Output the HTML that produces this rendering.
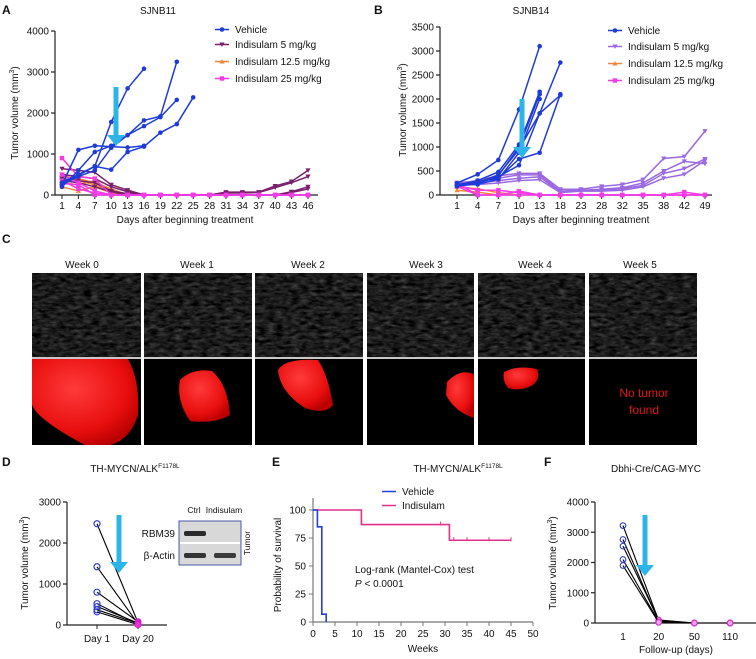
<!DOCTYPE html>
<html><head><meta charset="utf-8">
<style>
html,body{margin:0;padding:0;background:#fff;}
svg{display:block;font-family:"Liberation Sans",Arial,sans-serif;}
</style></head>
<body>
<svg id="fig" width="756" height="659" viewBox="0 0 756 659" xmlns="http://www.w3.org/2000/svg">
<defs>
<filter id="us" x="0" y="0" width="100%" height="100%" color-interpolation-filters="sRGB">
<feTurbulence type="fractalNoise" baseFrequency="0.12 0.3" numOctaves="3" seed="4"/>
<feColorMatrix type="matrix" values="0.55 0.55 0 0 -0.33  0.55 0.55 0 0 -0.33  0.55 0.55 0 0 -0.33  0 0 0 0 1"/>
</filter>
<radialGradient id="redg" cx="40%" cy="35%" r="70%"><stop offset="0" stop-color="#ff3a3a"/><stop offset="0.7" stop-color="#e80e0e"/><stop offset="1" stop-color="#b80000"/></radialGradient>
</defs>
<g id="root"></g>
</svg>
<script>
// ---------- Panel A data ----------
const aDays=[1,4,7,10,13,16,19,22,25,28,31,34,37,40,43,46];
const aVehicle=[[250,480,700,1780,2600,3080],[250,1100,1200,1180,1160,1200],[200,600,1050,1200,1460,1680,1900,2320],[300,500,700,620,1050,1180,1520,1730,2380],[250,450,600,1150,1460,1820,1920,3250]];
const aDose5=[[640,600,550,250,120,0,0,0,0,0,70,70,70,220,330,600],[500,450,400,200,80,0,0,0,0,0,50,50,60,180,300,450],[400,350,300,100,30,0,0,0,0,0,0,0,0,0,80,200],[350,300,200,80,0,0,0,0,0,0,0,0,0,0,60,150]];
const aDose12=[[450,400,300,150,0],[300,250,350,100,0],[200,100,200,50,0],[500,350,250,80,0]];
const aDose25=[[900,450,400,0,0,0,0,0,0,0,0,0,0,0,0,0],[500,300,100,0,0,0,0,0,0,0,0,0,0,0,0,0],[350,150,50,0,0,0,0,0,0,0,0,0,0,0,0,0],[280,250,0,0,0,0,0,0,0,0,0,0,0,0,0,0]];
const aYTicks=[0,1000,2000,3000,4000];
// ---------- Panel B data ----------
const bDays=[1,4,7,10,13,18,23,28,32,35,38,42,49];
const bVehicle=[[250,430,730,1780,3100],[200,300,480,1050,2150],[200,250,400,1000,2100],[220,280,350,750,880,2100],[180,250,380,620,1700,2760],[200,220,330,880,2000],[210,260,420,950,1700,2080]];
const bDose5=[[250,300,400,450,450,120,120,180,220,320,760,800,1330],[230,280,350,420,420,80,100,120,150,250,500,700,650],[220,250,300,350,380,60,100,100,130,200,450,550,750],[200,220,250,300,320,50,80,80,100,170,350,430,720]];
const bDose12=[[170,130,50,0],[100,60,0]];
const bDose25=[[250,0,0,80,0,0,0,0,0,0,0,0,0],[200,100,100,50,0,0,0,0,0,0,0,0,0],[180,0,0,0,0,0,0,0,0,0,0,60,0]];
const bYTicks=[0,500,1000,1500,2000,2500,3000,3500];
// ---------- Panel D data ----------
const dCats=["Day 1","Day 20"];
const dDay1=[2470,1420,800,520,450,370,320];
const dDay20=[60,30,80,20,50,40,10];
const dYTicks=[0,1000,2000,3000];
// ---------- Panel E data ----------
const eVehTimes=[0,1,2,3];
const eVehSurv=[100,85,7,0];
const eIndTimes=[0,11,31,45];
const eIndSurv=[100,87,73,73];
const eCensor=[29,32,35,40,45];
const eXTicks=[0,5,10,15,20,25,30,35,40,45,50];
const eYTicks=[0,25,50,75,100];
// ---------- Panel F data ----------
const fCats=["1","20","50","110"];
const fVals=[[3220,80,0,0],[2760,60,0,0],[2540,100,0,0],[2100,40,0,0],[1900,20,0,0]];
const fYTicks=[0,1000,2000,3000,4000];

const NS="http://www.w3.org/2000/svg";
const root=document.getElementById('root');
function el(tag,attrs,parent,text){const e=document.createElementNS(NS,tag);for(const k in attrs)e.setAttribute(k,attrs[k]);if(text!==undefined)e.textContent=text;(parent||root).appendChild(e);return e;}
function txt(x,y,s,size,anchor,name,extra){const t=el('text',Object.assign({x:x,y:y,'font-size':size,'text-anchor':anchor||'start',fill:'#111'},extra||{}),root,s);


return t;}
function marker(g,shape,x,y,c){let m;
if(shape==='circle')m=el('circle',{cx:x,cy:y,r:2.3,fill:c},g);
else if(shape==='square')m=el('rect',{x:x-2.2,y:y-2.2,width:4.4,height:4.4,fill:c},g);
else if(shape==='down')m=el('polygon',{points:`${x-2.6},${y-2} ${x+2.6},${y-2} ${x},${y+2.4}`,fill:c},g);
else m=el('polygon',{points:`${x-2.6},${y+2} ${x+2.6},${y+2} ${x},${y-2.4}`,fill:c},g);

}
function series(rows,xs,ys,c,shape,name){const g=el('g',{});


rows.forEach(r=>{const pts=[];r.forEach((v,i)=>{if(v!==null)pts.push([xs(i),ys(v)]);});
const p=el('polyline',{points:pts.map(p=>p.join(',')).join(' '),fill:'none',stroke:c,'stroke-width':1.5},g);


pts.forEach(q=>marker(g,shape,q[0],q[1],c));});}
function yaxis(x,y0,y1,ticks,ys,name){el('line',{x1:x,y1:y0,x2:x,y2:y1,stroke:'#222','stroke-width':1.2});
ticks.forEach(t=>{el('line',{x1:x-4,y1:ys(t),x2:x,y2:ys(t),stroke:'#222','stroke-width':1.2});txt(x-6,ys(t)+3.5,String(t),10,'end',name+'-tick');});}
function arrow(x,top,bot,name){const g=el('g',{});


el('rect',{x:x-2.5,y:top,width:5,height:bot-top-9,fill:'#2fb4ea'},g);
el('polygon',{points:`${x-9},${bot-11} ${x+9},${bot-11} ${x},${bot}`,fill:'#2fb4ea'},g);}
function legendRow(x,y,c,shape,label,name){const l=el('line',{x1:x,y1:y-3.5,x2:x+14,y2:y-3.5,stroke:c,'stroke-width':1.5});


if(shape)marker(root,shape,x+7,y-3.5,c);
txt(x+20,y,label,10,'start',name);}
function ylabel(x,y,name){const t=el('text',{x:0,y:0,'font-size':10,'text-anchor':'middle',transform:`translate(${x},${y}) rotate(-90)`,fill:'#111'});


el('tspan',{},t,'Tumor volume (mm');el('tspan',{dy:-4,'font-size':7},t,'3');el('tspan',{dy:4},t,')');}

const BLUE='#1f3bd6',PURP='#7a1f6c',ORNG='#f0873a',MAG='#f23ae6',LAV='#9a68e0';
// ===== Panel A =====
txt(2,14,'A',12,'start','panel-a-label',{'font-weight':'bold'});
txt(158,14,'SJNB11',10,'middle','panel-a-title');
const aX=i=>62+(aDays[i]-1)*(246/45), aY=v=>195-v*(164/4000);
yaxis(55,31,195,aYTicks,aY,'a-y');
el('line',{x1:55,y1:195,x2:318,y2:195,stroke:'#222','stroke-width':1.2});
aDays.forEach((d,i)=>{el('line',{x1:aX(i),y1:195,x2:aX(i),y2:199,stroke:'#222'});txt(aX(i),209,String(d),10,'middle','a-x-tick');});
txt(185,223,'Days after beginning treatment',10,'middle','a-x-axis-title');
ylabel(18,113,'a-y-axis-title');
series(aDose12,aX,aY,ORNG,'up','a-indisulam-12');
series(aDose5,aX,aY,PURP,'down','a-indisulam-5');
series(aDose25,aX,aY,MAG,'square','a-indisulam-25');
series(aVehicle,aX,aY,BLUE,'circle','a-vehicle');
arrow(116,87,146,'a-arrow');
legendRow(215,33,BLUE,'circle','Vehicle','a-legend-vehicle');
legendRow(215,48,PURP,'down','Indisulam 5 mg/kg','a-legend-5');
legendRow(215,65,ORNG,'up','Indisulam 12.5 mg/kg','a-legend-12');
legendRow(215,82,MAG,'square','Indisulam 25 mg/kg','a-legend-25');

// ===== Panel B =====
txt(374,14,'B',12,'start','panel-b-label',{'font-weight':'bold'});
txt(531,14,'SJNB14',10,'middle','panel-b-title');
const bX=i=>457+i*(248/12), bY=v=>195-v*(168/3500);
yaxis(440,27,195,bYTicks,bY,'b-y');
el('line',{x1:440,y1:195,x2:712,y2:195,stroke:'#222','stroke-width':1.2});
bDays.forEach((d,i)=>{el('line',{x1:bX(i),y1:195,x2:bX(i),y2:199,stroke:'#222'});txt(bX(i),209,String(d),10,'middle','b-x-tick');});
txt(581,223,'Days after beginning treatment',10,'middle','b-x-axis-title');
ylabel(406,110,'b-y-axis-title');
series(bDose12,bX,bY,ORNG,'up','b-indisulam-12');
series(bDose5,bX,bY,LAV,'down','b-indisulam-5');
series(bDose25,bX,bY,MAG,'square','b-indisulam-25');
series(bVehicle,bX,bY,BLUE,'circle','b-vehicle');
arrow(522,99,158,'b-arrow');
legendRow(608,34,BLUE,'circle','Vehicle','b-legend-vehicle');
legendRow(608,50,LAV,'down','Indisulam 5 mg/kg','b-legend-5');
legendRow(608,67,ORNG,'up','Indisulam 12.5 mg/kg','b-legend-12');
legendRow(608,84,MAG,'square','Indisulam 25 mg/kg','b-legend-25');

// ===== Panel C =====
txt(2,243,'C',12,'start','panel-c-label',{'font-weight':'bold'});
const cCols=[[32,141],[144,252],[255,363],[367,474],[478,585],[589,697]];
const cLabelX=[82,197,308,426,535,640];
const cWeeks=['Week 0','Week 1','Week 2','Week 3','Week 4','Week 5'];
cCols.forEach((c,i)=>{
 const x=c[0],w=c[1]-c[0];
 txt(cLabelX[i],268,cWeeks[i],10,'middle','c-week-label');
 const u=el('rect',{x:x,y:273,width:w,height:84,fill:'#222',filter:'url(#us)'});
 
 
 el('rect',{x:x,y:273,width:w,height:84,fill:'#000','fill-opacity':0.5});
 el('rect',{x:x,y:357,width:w,height:2,fill:'#c8c8c8'});
 const b=el('rect',{x:x,y:359,width:w,height:86,fill:'#000'});
 
 
});
const r0=el('path',{d:'M32,359 L128,359 Q140,380 138,415 Q130,440 110,445 L85,445 Q60,432 45,420 Q35,412 32,405 Z',fill:'url(#redg)'});

const r1=el('path',{d:'M180,380 Q192,368 212,371 Q228,385 230,415 Q215,424 190,421 Q176,400 180,380 Z',fill:'url(#redg)'});

const r2=el('path',{d:'M278,370 Q285,358 318,360 Q328,375 333,405 Q325,415 305,408 Q280,392 278,370 Z',fill:'url(#redg)'});

const r3=el('path',{d:'M447,382 Q460,368 474,374 L474,418 Q455,412 446,395 Z',fill:'url(#redg)'});

const r4=el('path',{d:'M504,372 Q518,365 537,369 Q541,378 533,385 Q520,392 508,388 Q502,380 504,372 Z',fill:'url(#redg)'});

txt(644,397,'No tumor',12,'middle','no-tumor-text',{fill:'#e01515'});
txt(644,414,'found',12,'middle','no-tumor-text',{fill:'#e01515'});

// ===== Panel D =====
txt(2,466,'D',12,'start','panel-d-label',{'font-weight':'bold'});
{const t=el('text',{x:135,y:472,'font-size':10,'text-anchor':'middle',fill:'#111'});el('tspan',{},t,'TH-MYCN/ALK');el('tspan',{dy:-4,'font-size':6.5},t,'F1178L');}
const dX=i=>97+i*41, dY=v=>625-v*(123/3000);
yaxis(67,502,625,dYTicks,dY,'d-y');
el('line',{x1:67,y1:625,x2:167,y2:625,stroke:'#222','stroke-width':1.2});
dCats.forEach((c,i)=>{el('line',{x1:dX(i),y1:625,x2:dX(i),y2:629,stroke:'#222'});txt(dX(i),642,c,10,'middle','d-x-tick');});
ylabel(28,563,'d-y-axis-title');
dDay1.forEach((v,i)=>{const l=el('line',{x1:dX(0),y1:dY(v),x2:dX(1),y2:dY(dDay20[i]),stroke:'#000','stroke-width':1.1});

const c1=el('circle',{cx:dX(0),cy:dY(v),r:3,fill:'none',stroke:'#3040c8','stroke-width':1.2});

const c2=el('circle',{cx:dX(1),cy:dY(dDay20[i]),r:3,fill:'#f030e0',stroke:'#d020c0','stroke-width':1});
});
arrow(119,515,573,'d-arrow');
txt(194,513,'Ctrl',8.5,'middle','blot-ctrl-label');
txt(224,513,'Indisulam',8.5,'middle','blot-indisulam-label');
const blot=el('g',{});
el('rect',{x:179,y:521,width:62,height:44,fill:'#d8d8d8',stroke:'#4a58a8','stroke-width':1},blot);
el('rect',{x:180,y:542,width:60,height:2,fill:'#fff'},blot);
el('rect',{x:184,y:531,width:22,height:5,rx:2,fill:'#2a2a2a'},blot);
el('rect',{x:184,y:553,width:22,height:5,rx:2,fill:'#333'},blot);
el('rect',{x:214,y:553,width:22,height:5,rx:2,fill:'#3a3a3a'},blot);
txt(175,537,'RBM39',10,'end','blot-rbm39-label');
txt(175,559,'β-Actin',10,'end','blot-actin-label');
txt(0,0,'Tumor',8.5,'middle','blot-tumor-label',{transform:'translate(250,543) rotate(-90)'});

// ===== Panel E =====
txt(272,466,'E',12,'start','panel-e-label',{'font-weight':'bold'});
{const t=el('text',{x:458,y:472,'font-size':10,'text-anchor':'middle',fill:'#111'});el('tspan',{},t,'TH-MYCN/ALK');el('tspan',{dy:-4,'font-size':6.5},t,'F1178L');}
const eX=w=>313+w*4.4, eY=p=>622-p*1.12;
el('line',{x1:313,y1:498,x2:313,y2:622,stroke:'#777','stroke-width':1.2});
eYTicks.forEach(t=>{el('line',{x1:309,y1:eY(t),x2:313,y2:eY(t),stroke:'#777'});txt(306,eY(t)+3.5,String(t),10,'end','e-y-tick');});
el('line',{x1:313,y1:622,x2:533,y2:622,stroke:'#777','stroke-width':1.2});
eXTicks.forEach(t=>{el('line',{x1:eX(t),y1:622,x2:eX(t),y2:626,stroke:'#777'});txt(eX(t),637,String(t),10,'middle','e-x-tick');});
txt(423,652,'Weeks',10,'middle','e-x-axis-title');
txt(0,0,'Probability of survival',10,'middle','e-y-axis-title',{transform:'translate(281,565) rotate(-90)'});
function km(times,surv,c,name){let d=`M${eX(times[0])},${eY(surv[0])}`;for(let i=1;i<times.length;i++){d+=` H${eX(times[i])} V${eY(surv[i])}`;}
const p=el('path',{d:d,fill:'none',stroke:c,'stroke-width':1.6});}
km(eIndTimes,eIndSurv,'#e0308a','e-indisulam-curve');
km(eVehTimes,eVehSurv,'#2040e0','e-vehicle-curve');
eCensor.forEach(w=>{const s=w<31?87:73;const m=el('line',{x1:eX(w),y1:eY(s)-3,x2:eX(w),y2:eY(s)+1,stroke:'#e0308a','stroke-width':1});});
legendRow(382,495,'#2040e0',null,'Vehicle','e-legend-vehicle');
legendRow(382,509,'#e0308a',null,'Indisulam','e-legend-indisulam');
txt(355,573,'Log-rank (Mantel-Cox) test',10,'start','e-logrank-text');
{const t=el('text',{x:355,y:587,'font-size':10,fill:'#111'});el('tspan',{'font-style':'italic'},t,'P');el('tspan',{},t,' < 0.0001');}

// ===== Panel F =====
txt(544,466,'F',12,'start','panel-f-label',{'font-weight':'bold'});
txt(656,472,'Dbhi-Cre/CAG-MYC',10,'middle','panel-f-title');
const fX=i=>623+i*35.7, fY=v=>623-v*(121/4000);
yaxis(595,502,623,fYTicks,fY,'f-y');
el('line',{x1:595,y1:623,x2:756,y2:623,stroke:'#222','stroke-width':1.2});
fCats.forEach((c,i)=>txt(fX(i),640,c,10,'middle','f-x-tick'));
txt(676,653,'Follow-up (days)',10,'middle','f-x-axis-title');
ylabel(556,563,'f-y-axis-title');
fVals.forEach(r=>{const p=el('polyline',{points:r.map((v,i)=>fX(i)+','+fY(v)).join(' '),fill:'none',stroke:'#000','stroke-width':1.1});

r.forEach((v,i)=>{const c=el('circle',{cx:fX(i),cy:fY(v),r:2.8,fill:i===0?'none':'#f5a0ee',stroke:i===0?'#3040c8':'#d030c0','stroke-width':1.1});
});});
arrow(645,515,576,'f-arrow');
</script>
</body></html>
